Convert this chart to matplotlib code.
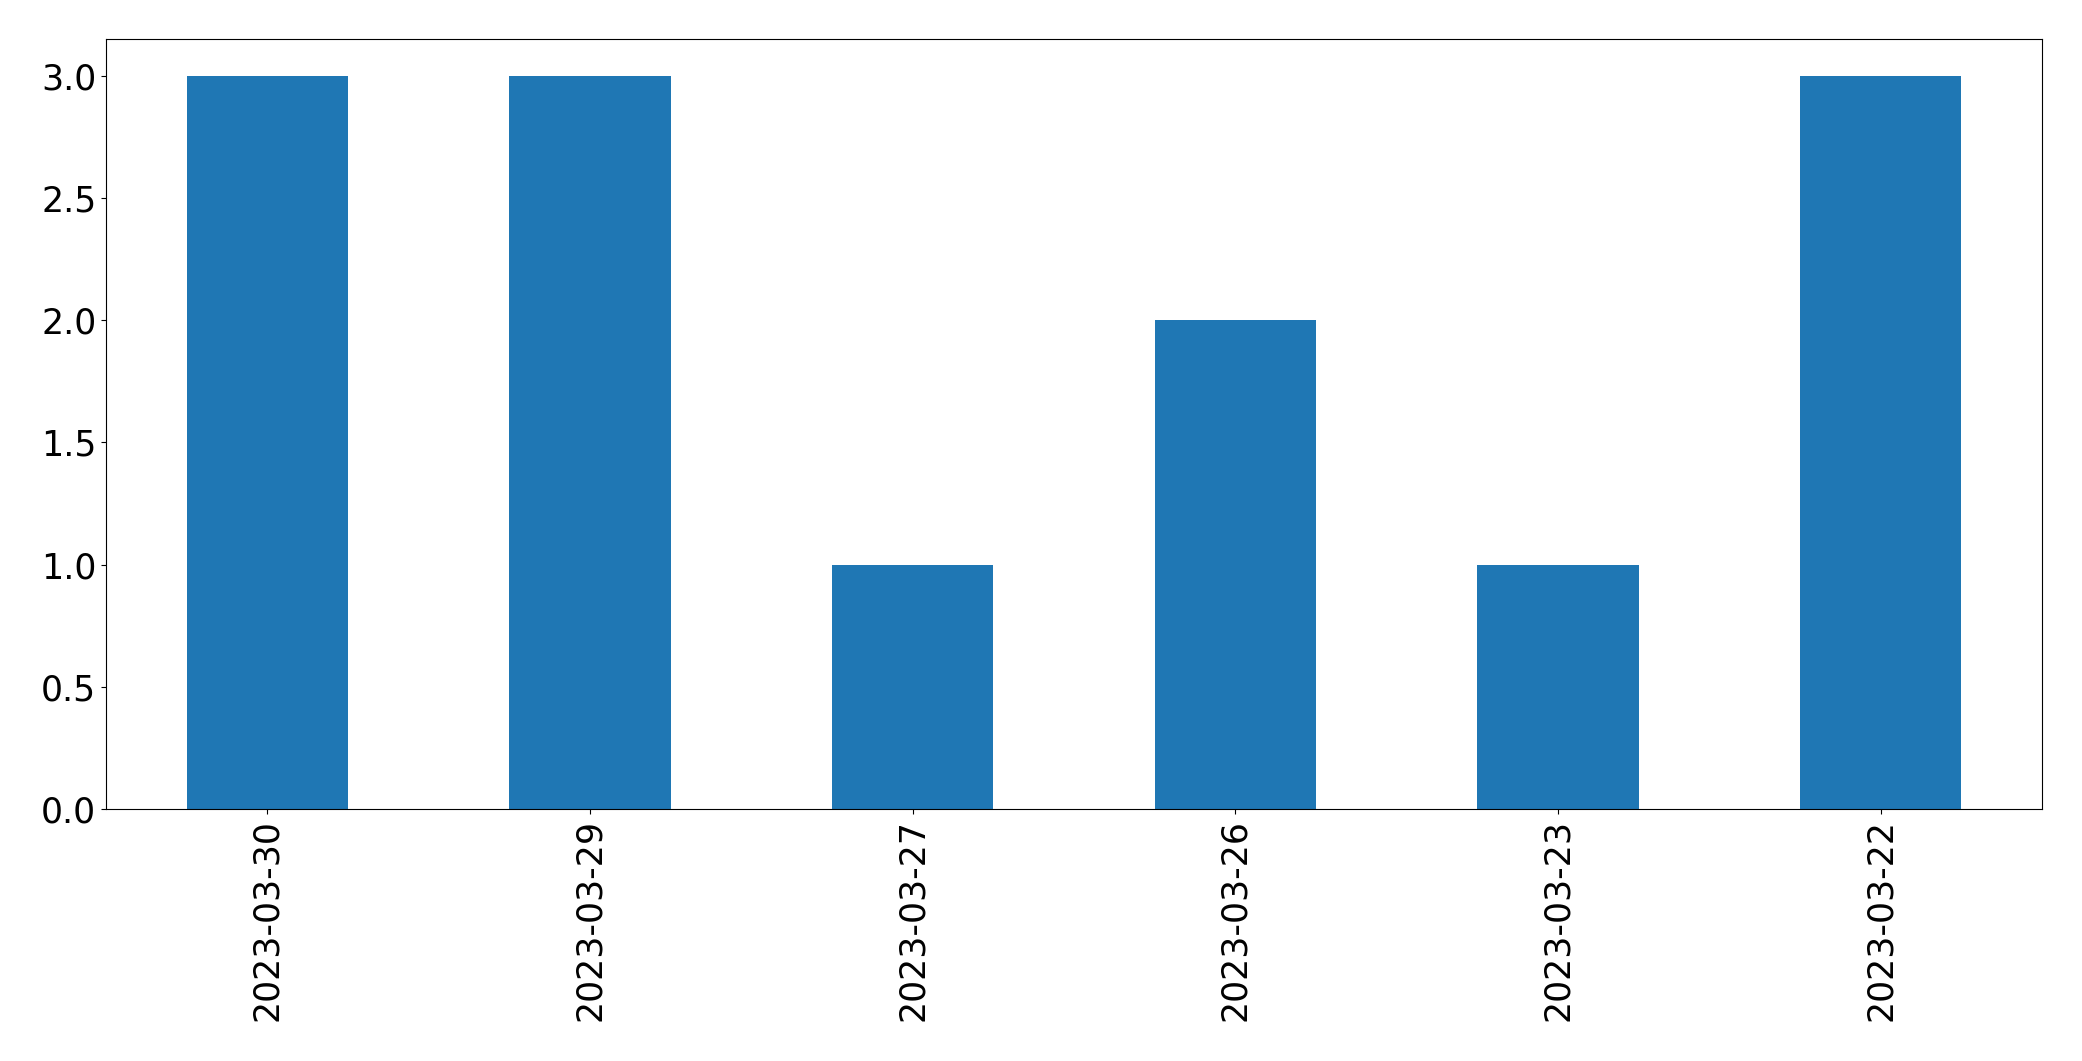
import matplotlib
matplotlib.use("Agg")
import matplotlib.pyplot as plt
import pandas as pd

dates = ["2023-03-30", "2023-03-29", "2023-03-27", "2023-03-26", "2023-03-23", "2023-03-22"]
counts = [3, 3, 1, 2, 1, 3]

s = pd.Series(counts, index=dates)

fig = plt.figure(figsize=(20.82, 10.61), dpi=100)
ax = fig.add_axes([0.0509, 0.2375, 0.9299, 0.7257])
s.plot(kind="bar", ax=ax, color="#1f77b4", fontsize=25)
ax.set_xlabel("")
fig.savefig("out.png", dpi=100)
